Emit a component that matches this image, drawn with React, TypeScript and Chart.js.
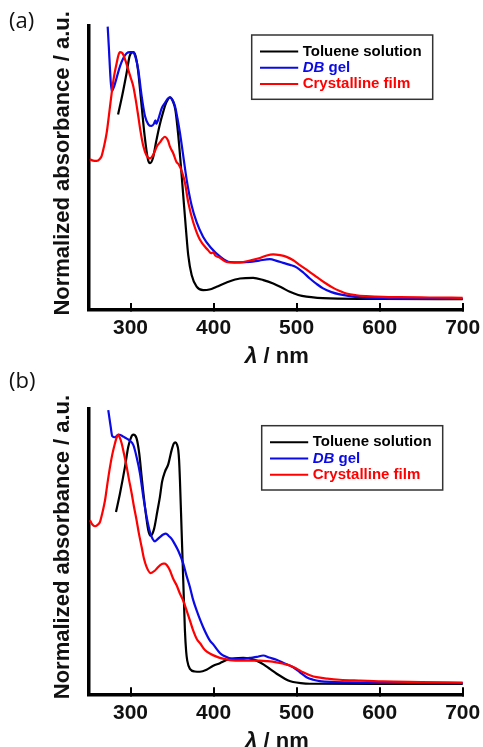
import React, { useEffect, useRef } from "react";
import { Chart, registerables } from "chart.js";

Chart.register(...registerables);
Chart.defaults.font.family = "'Liberation Sans', Arial, sans-serif";

// ---------- shared axis / legend content ----------
const xTicks = [300, 400, 500, 600, 700];
const seriesLabels = ["Toluene solution", "DB gel", "Crystalline film"];
const seriesItalicPrefix = ["", "DB", ""];
const seriesColors = ["#000000", "#0a0ae6", "#ff0000"];
const yTitle = "Normalized absorbance / a.u.";

// ---------- panel (a) : [wavelength nm, normalized absorbance %] ----------
const tolueneA: [number, number][] = [
  [285, 68.8], [290, 75.5], [295, 83], [299, 89.5], [303, 90.8], [306, 89.5], [309, 84.6], [313, 73],
  [317, 61.3], [321, 53], [323.5, 51.7], [327, 53.5], [331, 59.5], [335, 65], [339, 69.4], [343, 73],
  [347.5, 74.9], [351, 73.5], [354, 70.5], [357.5, 61.5], [360.3, 52], [363.5, 40.3], [366.7, 28.6],
  [369.5, 19.3], [373.6, 12.3], [379.6, 8.2], [387.5, 7.0], [395, 7.2], [403.6, 8.2], [415, 9.6],
  [431.7, 11.1], [447.7, 11.3], [460, 10.5], [471.8, 9.3], [482, 7.9], [491.9, 6.4], [502, 5.3],
  [511.9, 4.7], [525, 4.3], [540, 4.1], [600, 3.9], [700, 3.85],
];
const gelA: [number, number][] = [
  [272.5, 99.8], [274, 92], [275.3, 84.6], [277.3, 77], [280, 78.5], [283.5, 82], [287.3, 85.8],
  [291, 88.5], [295.4, 90.4], [299.3, 90.8], [303.3, 90.8], [306, 89], [309.3, 84.6], [313.4, 75.3],
  [317.4, 68.3], [321.4, 65.4], [325.4, 64.8], [328, 65.5], [330, 66.8], [331, 65.5], [333, 66.8],
  [337.5, 71], [341.4, 72.9], [344.5, 74.3], [347.5, 74.9], [350.5, 74], [353.5, 71.8], [356.5, 67.5],
  [359.5, 62.4], [363.5, 54.3], [367.5, 46.1], [373.6, 36.8], [379.6, 30.9], [387.5, 25.7], [396.5, 22],
  [408, 18.8], [419.7, 16.9], [431.7, 16.8], [443.7, 16.9], [455, 17.4], [467.8, 17.9], [476, 17.3],
  [483.8, 16.6], [492, 15.9], [499.9, 15], [508, 13.2], [515.9, 11.1], [524, 9.2], [531.9, 7.6],
  [542, 6.3], [552, 5.5], [564, 4.9], [576, 4.5], [604, 4.2], [650, 4], [700, 3.9],
];
const filmA: [number, number][] = [
  [251, 53.1], [255, 52.6], [259.3, 52.5], [263, 53.2], [265.3, 54.3], [268, 57.5], [271.3, 62.4],
  [274, 68.5], [277.3, 76.4], [280, 82], [283.3, 86.9], [285.5, 89.8], [287.3, 90.8], [289.5, 90.6],
  [291.3, 89.9], [294, 87.7], [297.3, 84.6], [300, 82], [303.3, 78.8], [306, 74.5], [309.3, 68.3],
  [312, 63], [315.3, 57.8], [319.4, 54.3], [323.4, 53.4], [326, 54], [329.4, 56], [332, 57.8],
  [335.4, 59], [338.5, 60.3], [341.4, 61], [343.5, 60.5], [345.4, 59.5], [347.5, 57.5], [351.4, 55.2],
  [355.5, 52], [358, 51.3], [361.5, 49], [365.5, 44.9], [369.5, 37.9], [375.5, 30.9], [383.6, 24.7],
  [393.6, 21], [397, 20], [399.6, 20.3], [402, 19.2], [407.6, 18.4], [415.7, 16.9], [425, 16.7],
  [435.7, 16.9], [445, 17.5], [455.8, 18.3], [464, 19.2], [471.8, 19.6], [480, 19.3], [487.9, 18.7],
  [496, 17.5], [503.9, 15.8], [514, 13.8], [524, 11.7], [534, 9.6], [544, 7.8], [552, 6.7], [560, 5.8],
  [572, 5.2], [584, 4.9], [604, 4.6], [624, 4.5], [660, 4.4], [700, 4.3],
];

// ---------- panel (b) ----------
const tolueneB: [number, number][] = [
  [282.5, 63.9], [287.3, 70.4], [293.3, 79.7], [297.3, 86.8], [301.4, 90.5], [303.3, 91], [307.3, 89.7],
  [310.5, 84.4], [313.4, 76.2], [317.4, 65.7], [321.4, 57.5], [324.2, 55.6], [328.2, 57.8], [332.2, 64],
  [335.4, 69.2], [338, 74.5], [341.4, 78], [345.4, 80.6], [349.5, 85.6], [352, 87.8], [354, 88.3],
  [356, 87.5], [357.5, 85.6], [358.5, 82], [359.5, 75.1], [361.5, 57.5], [363.5, 39.9], [365.5, 22.4],
  [367, 15], [368.3, 11.8], [371.5, 8.9], [377.5, 8.0], [383.6, 7.9], [391.6, 8.6], [399.6, 10.0],
  [407.6, 10.9], [415.7, 12.0], [425, 12.6], [435.7, 12.8], [444, 12.5], [451.8, 11.8], [460, 10.5],
  [467.8, 8.9], [476, 7.2], [483.8, 5.8], [490, 4.8], [495.8, 4.3], [505, 3.9], [515.9, 3.7],
  [600, 3.65], [700, 3.65],
];
const gelB: [number, number][] = [
  [273.2, 99.6], [275, 96], [276.1, 93.8], [278, 90.5], [281.3, 90.1], [285.3, 91], [288, 90.9],
  [291.3, 90.3], [295, 89.7], [299.3, 88.9], [303.3, 87.4], [307.3, 83.2], [311.4, 77.4], [315.4, 69.2],
  [319.4, 62.2], [323.4, 56.9], [326.5, 54.5], [329.4, 53.6], [332, 54.2], [335.4, 55.1], [339.4, 56],
  [342.6, 56.3], [346, 55.5], [349.5, 54.5], [353, 52.8], [357.5, 50.3], [363.5, 45.8], [367.5, 41.5],
  [371.5, 37.6], [375.5, 33], [379.6, 29.4], [387.5, 23.5], [395.6, 18.8], [399.6, 17.5], [407.6, 14.5],
  [411.6, 13.6], [423.6, 12.4], [431.7, 12.3], [443.7, 12.8], [452, 13.1], [459.8, 13.6], [467, 12.9],
  [475.8, 12.1], [485, 10.9], [495.8, 9.5], [504, 7.7], [511.9, 6.0], [520, 5.1], [527.9, 4.6],
  [545, 4.3], [564, 4.2], [600, 4.0], [700, 3.9],
];
const filmB: [number, number][] = [
  [251.2, 61], [254, 59.5], [257.2, 58.9], [260, 59.3], [263.2, 60.4], [266, 63.5], [269.3, 68],
  [272, 73.5], [275.3, 79.7], [278, 84], [281.3, 88], [283.5, 90.2], [285.3, 90.9], [287.3, 89.8],
  [289.3, 88], [292, 84.5], [295.4, 79.7], [298, 75.5], [301.4, 70.4], [304, 66], [307.3, 61],
  [310, 56.5], [313.4, 51.6], [316, 47.8], [319.4, 44.6], [324.2, 42.5], [329.4, 43.4], [331.4, 44],
  [335.4, 45.2], [339.4, 45.8], [341.4, 45.8], [345.4, 44.6], [347.5, 43.4], [351.4, 40.5],
  [355.5, 38.2], [359.5, 35.3], [363.5, 32.8], [365.5, 31.2], [371.5, 25.9], [375.5, 22.3],
  [379.6, 19.5], [384, 17.8], [389.6, 15.5], [396, 14.2], [403.6, 13.2], [410, 12.6], [419.7, 12.0],
  [435.7, 11.8], [455.8, 11.8], [465, 11.6], [475.8, 11.2], [484, 10.7], [491.9, 10.1], [500, 9.0],
  [507.9, 7.7], [516, 6.7], [524, 6.0], [537, 5.5], [552, 5.1], [575, 4.8], [604, 4.5], [650, 4.3],
  [700, 4.1],
];

type Series = [number, number][];

interface PanelProps {
  top: number;
  height: number;
  areaTop: number;
  xAxisHeight: number;
  label: string;
  labelBaseline: number;
  legendX: number;
  legendY: number;
  series: Series[];
}

function Panel(props: PanelProps) {
  const ref = useRef<HTMLCanvasElement>(null);

  useEffect(() => {
    const canvas = ref.current;
    if (!canvas) return;

    const decor = {
      id: "decor",
      afterDraw(chart: any) {
        const ctx: CanvasRenderingContext2D = chart.ctx;
        const ca = chart.chartArea;
        ctx.save();
        // panel label
        ctx.fillStyle = "#111";
        ctx.textAlign = "left";
        ctx.textBaseline = "alphabetic";
        ctx.font = "22px 'Open Sans', 'Liberation Sans', sans-serif";
        ctx.fillText(props.label, 9, props.labelBaseline);

        // y title
        ctx.save();
        ctx.translate(69, (ca.top + ca.bottom) / 2 - 4.6);
        ctx.rotate(-Math.PI / 2);
        ctx.font = "bold 22px 'Liberation Sans', Arial, sans-serif";
        ctx.textAlign = "center";
        ctx.fillStyle = "#111";
        ctx.fillText(yTitle, 0, 0);
        ctx.restore();

        // x title
        const lamFont = "italic bold 23px 'Liberation Sans', Arial, sans-serif";
        const restFont = "bold 22px 'Liberation Sans', Arial, sans-serif";
        ctx.font = lamFont;
        const w1 = ctx.measureText("λ").width;
        ctx.font = restFont;
        const w2 = ctx.measureText(" / nm").width;
        const x0 = 276.7 - (w1 + w2) / 2;
        const by = ca.bottom + 53.3;
        ctx.textAlign = "left";
        ctx.font = lamFont;
        ctx.fillText("λ", x0, by);
        ctx.font = restFont;
        ctx.fillText(" / nm", x0 + w1, by);

        // legend
        const lx = props.legendX;
        const ly = props.legendY;
        ctx.strokeStyle = "#333";
        ctx.lineWidth = 1.5;
        ctx.strokeRect(lx, ly, 181, 64.3);
        chart.data.datasets.forEach((ds: any, i: number) => {
          const ry = ly + 16.5 + i * 16.3;
          ctx.strokeStyle = ds.borderColor;
          ctx.lineWidth = 2;
          ctx.beginPath();
          ctx.moveTo(lx + 8.3, ry);
          ctx.lineTo(lx + 46.5, ry);
          ctx.stroke();
          ctx.fillStyle = ds.borderColor;
          ctx.textBaseline = "middle";
          let tx = lx + 51;
          const lab: string = ds.label;
          const pre = seriesItalicPrefix[i];
          if (pre && lab.startsWith(pre)) {
            ctx.font = "italic bold 15px 'Liberation Sans', Arial, sans-serif";
            ctx.fillText(pre, tx, ry);
            tx += ctx.measureText(pre).width;
            ctx.font = "bold 15px 'Liberation Sans', Arial, sans-serif";
            ctx.fillText(lab.slice(pre.length), tx, ry);
          } else {
            ctx.font = "bold 15px 'Liberation Sans', Arial, sans-serif";
            ctx.fillText(lab, tx, ry);
          }
        });
        ctx.restore();
      },
    };

    const chart = new Chart(canvas, {
      type: "line",
      data: {
        datasets: props.series.map((s, i) => ({
          label: seriesLabels[i],
          data: s.map(([x, y]) => ({ x, y })),
          borderColor: seriesColors[i],
          backgroundColor: seriesColors[i],
          borderWidth: 2.2,
          pointRadius: 0,
          fill: false,
          cubicInterpolationMode: "monotone" as const,
          order: 3 - i,
          clip: 4,
        })),
      },
      options: {
        animation: false,
        responsive: false,
        maintainAspectRatio: false,
        layout: { padding: { top: props.areaTop, right: 20.3, left: 0, bottom: 0 } },
        plugins: { legend: { display: false }, tooltip: { enabled: false }, title: { display: false } },
        scales: {
          x: {
            type: "linear",
            min: 250,
            max: 700,
            afterBuildTicks: (s: any) => {
              s.ticks = xTicks.map((v) => ({ value: v }));
            },
            afterFit: (s: any) => {
              s.height = props.xAxisHeight;
              s.paddingLeft = 0;
              s.paddingRight = 0;
            },
            ticks: {
              color: "#111",
              font: { size: 21, weight: "bold" },
              padding: 13,
              maxRotation: 0,
              autoSkip: false,
            },
            grid: {
              display: true,
              drawOnChartArea: false,
              drawTicks: true,
              tickLength: -7,
              lineWidth: 2,
              color: "#000",
            },
            border: { display: true, width: 3.5, color: "#000" },
          },
          y: {
            type: "linear",
            min: 0,
            max: 100,
            ticks: { display: false },
            grid: { display: false },
            border: { display: true, width: 3.5, color: "#000" },
            afterFit: (s: any) => {
              s.width = 89;
              s.paddingTop = 0;
              s.paddingBottom = 0;
            },
          },
        },
      } as any,
      plugins: [decor],
    });

    return () => chart.destroy();
  }, []);

  return (
    <canvas
      ref={ref}
      width={483}
      height={props.height}
      style={{ position: "absolute", left: 0, top: props.top, width: 483, height: props.height }}
    />
  );
}

export default function App() {
  return (
    <div style={{ position: "absolute", left: 0, top: 0, width: 483, height: 747, background: "#fff" }}>
      <Panel
        top={0}
        height={370}
        areaTop={26}
        xAxisHeight={60}
        label="(a)"
        labelBaseline={28}
        legendX={251.7}
        legendY={35}
        series={[tolueneA, gelA, filmA]}
      />
      <Panel
        top={370}
        height={377}
        areaTop={39}
        xAxisHeight={52.7}
        label="(b)"
        labelBaseline={17.7}
        legendX={261.7}
        legendY={55.7}
        series={[tolueneB, gelB, filmB]}
      />
    </div>
  );
}
